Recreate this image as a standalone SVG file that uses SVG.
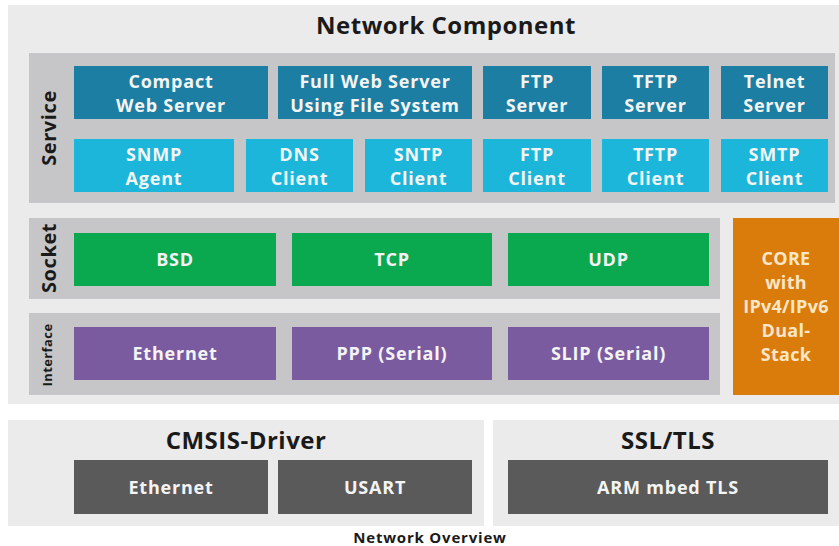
<svg xmlns="http://www.w3.org/2000/svg" width="839" height="546" viewBox="0 0 839 546">
<style>
text{font-family:"Open Sans",Lato,"Liberation Sans",sans-serif;font-weight:bold;text-anchor:middle}
.lbl{fill:#f4f4f4;font-size:18px;letter-spacing:0.8px}
.hd{fill:#1a1a1a;font-size:24px;letter-spacing:0.5px}
.side{fill:#1a1a1a;font-size:20px;letter-spacing:0.6px}
.s1{fill:#1d7ea3}
.s2{fill:#1bb6d9}
.gr{fill:#0aa84f}
.pu{fill:#7a5b9f}
.dk{fill:#5a5a5a}
.band{fill:#c6c6c8}
.panel{fill:#ebebeb}
</style>
<rect width="839" height="546" fill="#ffffff"/>
<g id="network-component">
<rect class="panel" x="8" y="5" width="831" height="399"/>
<text class="hd" x="446" y="34">Network Component</text>
</g>
<g id="service">
<rect class="band" x="29" y="53" width="806" height="150"/>
<text class="side" transform="translate(56,128) rotate(-90)">Service</text>
</g>
<g id="compact-web-server"><rect class="s1" x="74" y="66" width="194" height="53"/><text class="lbl" x="171" y="88">Compact</text><text class="lbl" x="171" y="112">Web Server</text></g>
<g id="full-web-server"><rect class="s1" x="278" y="66" width="194" height="53"/><text class="lbl" x="375" y="88">Full Web Server</text><text class="lbl" x="375" y="112">Using File System</text></g>
<g id="ftp-server"><rect class="s1" x="483" y="66" width="108" height="53"/><text class="lbl" x="537" y="88">FTP</text><text class="lbl" x="537" y="112">Server</text></g>
<g id="tftp-server"><rect class="s1" x="602" y="66" width="107" height="53"/><text class="lbl" x="655.5" y="88">TFTP</text><text class="lbl" x="655.5" y="112">Server</text></g>
<g id="telnet-server"><rect class="s1" x="721" y="66" width="107" height="53"/><text class="lbl" x="774.5" y="88">Telnet</text><text class="lbl" x="774.5" y="112">Server</text></g>
<g id="snmp-agent"><rect class="s2" x="74" y="139" width="160" height="53"/><text class="lbl" x="154" y="161">SNMP</text><text class="lbl" x="154" y="185">Agent</text></g>
<g id="dns-client"><rect class="s2" x="246" y="139" width="107" height="53"/><text class="lbl" x="299.5" y="161">DNS</text><text class="lbl" x="299.5" y="185">Client</text></g>
<g id="sntp-client"><rect class="s2" x="365" y="139" width="107" height="53"/><text class="lbl" x="418.5" y="161">SNTP</text><text class="lbl" x="418.5" y="185">Client</text></g>
<g id="ftp-client"><rect class="s2" x="483" y="139" width="108" height="53"/><text class="lbl" x="537" y="161">FTP</text><text class="lbl" x="537" y="185">Client</text></g>
<g id="tftp-client"><rect class="s2" x="602" y="139" width="107" height="53"/><text class="lbl" x="655.5" y="161">TFTP</text><text class="lbl" x="655.5" y="185">Client</text></g>
<g id="smtp-client"><rect class="s2" x="721" y="139" width="107" height="53"/><text class="lbl" x="774.5" y="161">SMTP</text><text class="lbl" x="774.5" y="185">Client</text></g>
<g id="socket">
<rect class="band" x="29" y="218" width="691" height="81"/>
<text class="side" transform="translate(56,258) rotate(-90)">Socket</text>
</g>
<g id="bsd"><rect class="gr" x="74" y="233" width="202" height="53"/><text class="lbl" x="175" y="266">BSD</text></g>
<g id="tcp"><rect class="gr" x="292" y="233" width="200" height="53"/><text class="lbl" x="392" y="266">TCP</text></g>
<g id="udp"><rect class="gr" x="508" y="233" width="201" height="53"/><text class="lbl" x="608.5" y="266">UDP</text></g>
<g id="interface">
<rect class="band" x="29" y="313" width="691" height="82"/>
<text class="side" style="font-size:13px;letter-spacing:0.4px" transform="translate(52,355) rotate(-90)">Interface</text>
</g>
<g id="if-ethernet"><rect class="pu" x="74" y="327" width="202" height="53"/><text class="lbl" x="175" y="360">Ethernet</text></g>
<g id="ppp"><rect class="pu" x="292" y="327" width="200" height="53"/><text class="lbl" x="392" y="360">PPP (Serial)</text></g>
<g id="slip"><rect class="pu" x="508" y="327" width="201" height="53"/><text class="lbl" x="608.5" y="360">SLIP (Serial)</text></g>
<g id="core">
<rect x="733" y="218" width="106" height="177" fill="#d97c0b"/>
<text class="lbl" style="fill:#fbe6c8;letter-spacing:0.3px" x="786" y="265">CORE</text>
<text class="lbl" style="fill:#fbe6c8;letter-spacing:0.3px" x="786" y="289">with</text>
<text class="lbl" style="fill:#fbe6c8;letter-spacing:0.3px" x="786" y="313">IPv4/IPv6</text>
<text class="lbl" style="fill:#fbe6c8;letter-spacing:0.3px" x="786" y="337">Dual-</text>
<text class="lbl" style="fill:#fbe6c8;letter-spacing:0.3px" x="786" y="361">Stack</text>
</g>
<g id="cmsis-driver">
<rect class="panel" x="8" y="420" width="476" height="106"/>
<text class="hd" x="246" y="449">CMSIS-Driver</text>
</g>
<g id="drv-ethernet"><rect class="dk" x="74" y="460" width="194" height="54"/><text class="lbl" x="171" y="494">Ethernet</text></g>
<g id="usart"><rect class="dk" x="278" y="460" width="194" height="54"/><text class="lbl" x="375" y="494">USART</text></g>
<g id="ssl-tls">
<rect class="panel" x="493" y="420" width="346" height="106"/>
<text class="hd" x="668" y="449">SSL/TLS</text>
</g>
<g id="mbed-tls"><rect class="dk" x="508" y="460" width="320" height="54"/><text class="lbl" x="668" y="494">ARM mbed TLS</text></g>
<g id="connectors"></g>
<text x="430" y="543" style="font-size:15px;letter-spacing:0.8px;fill:#1a1a1a">Network Overview</text>
</svg>
